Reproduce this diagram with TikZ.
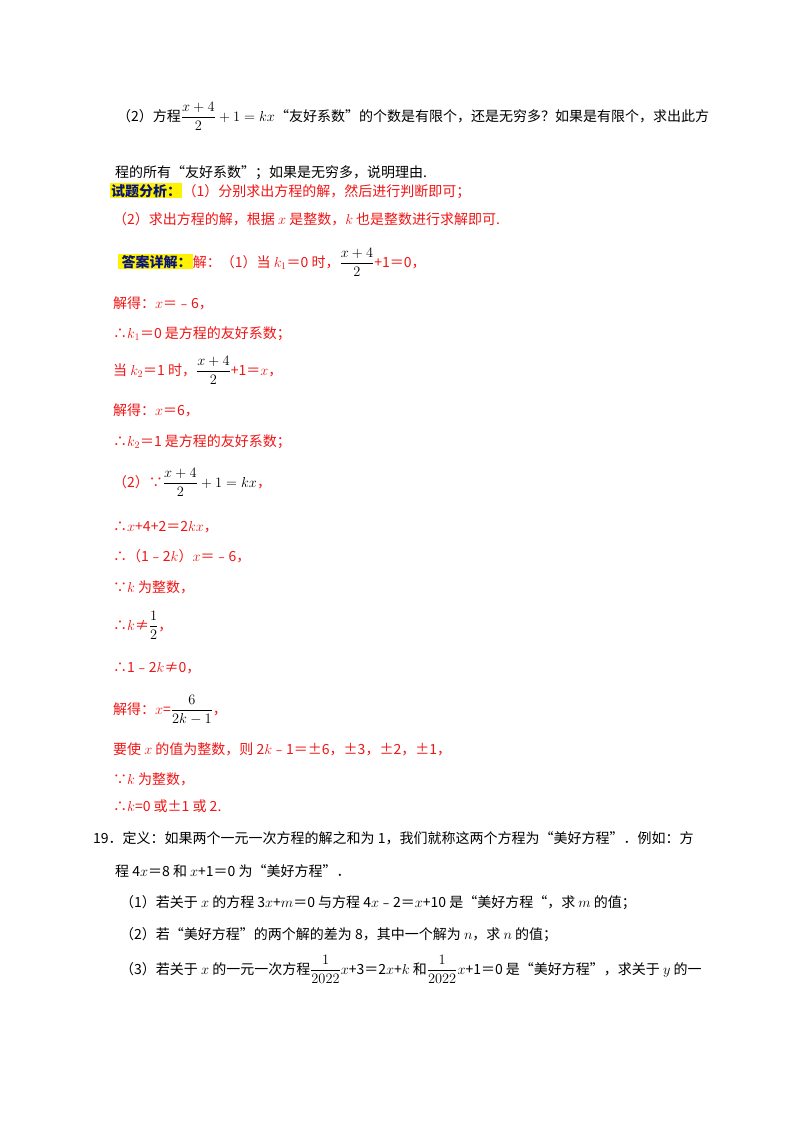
\documentclass[tikz,border=0pt]{standalone}
\usepackage{fontspec}
\usepackage{amsmath}
\setmainfont{Liberation Serif}
\newfontfamily\cjk{Noto Sans CJK SC}
\definecolor{rd}{RGB}{240,20,20}
\definecolor{lbl}{RGB}{10,20,120}
\begin{document}
\begin{tikzpicture}[x=1pt,y=-1pt,
  t/.style={anchor=base west,inner sep=0,font=\cjk\fontsize{14}{17}\selectfont},
  r/.style={t,text=rd},
  lab/.style={anchor=base west,inner sep=1pt,fill=yellow,text=lbl,font=\cjk\bfseries\fontsize{14}{17}\selectfont}]
\useasboundingbox (0,0) rectangle (800,1132);
\newcommand{\fr}[2]{{\color{black}$\dfrac{#1}{#2}$}}
\node[t] (l1) at (117,121) {（2）方程\fr{x+4}{2}${}+1=kx$“友好系数”的个数是有限个，还是无穷多？如果是有限个，求出此方};
\node[t] (l2) at (115,177) {程的所有“友好系数”；如果是无穷多，说明理由.};
\node[lab] (a1) at (110,196) {试题分析：};
\node[r,anchor=base west] (l3) at (a1.base east) {（1）分别求出方程的解，然后进行判断即可；};
\node[r] (l4) at (113,224) {（2）求出方程的解，根据 $x$ 是整数，$k$ 也是整数进行求解即可.};
\node[lab] (a2) at (118,267) {\,答案详解：};
\node[r,anchor=base west] (l5) at (a2.base east) {解：（1）当 $k_1$＝0 时，\fr{x+4}{2}+1＝0，};
\node[r] (l6) at (113,308) {解得：$x$＝﹣6，};
\node[r] (l7) at (113,338) {∴$k_1$＝0 是方程的友好系数；};
\node[r] (l8) at (113,375) {当 $k_2$＝1 时，\fr{x+4}{2}+1＝$x$，};
\node[r] (l9) at (113,415) {解得：$x$＝6，};
\node[r] (l10) at (113,446) {∴$k_2$＝1 是方程的友好系数；};
\node[r] (l11) at (113,487) {（2）∵\fr{x+4}{2}{\color{black}${}+1=kx$}，};
\node[r] (l12) at (113,531) {∴$x$+4+2＝2$kx$，};
\node[r] (l13) at (113,561) {∴（1﹣2$k$）$x$＝﹣6，};
\node[r] (l14) at (113,592) {∵$k$ 为整数，};
\node[r] (l15) at (113,630) {∴$k$≠\fr{1}{2}，};
\node[r] (l16) at (113,672) {∴1﹣2$k$≠0，};
\node[r] (l17) at (113,714) {解得：$x$=\fr{6}{2k-1}，};
\node[r] (l18) at (113,754) {要使 $x$ 的值为整数，则 2$k$﹣1＝±6，±3，±2，±1，};
\node[r] (l19) at (113,784) {∵$k$ 为整数，};
\node[r] (l20) at (113,811) {∴$k$=0 或±1 或 2.};
\node[t] (l21) at (93,843) {19．定义：如果两个一元一次方程的解之和为 1，我们就称这两个方程为“美好方程”．例如：方};
\node[t] (l22) at (115,876) {程 4$x$＝8 和 $x$+1＝0 为“美好方程”．};
\node[t] (l23) at (120,907) {（1）若关于 $x$ 的方程 3$x$+$m$＝0 与方程 4$x$﹣2＝$x$+10 是“美好方程“，求 $m$ 的值；};
\node[t] (l24) at (120,939) {（2）若“美好方程”的两个解的差为 8，其中一个解为 $n$，求 $n$ 的值；};
\node[t] (l25) at (120,974) {（3）若关于 $x$ 的一元一次方程\fr{1}{2022}$x$+3＝2$x$+$k$ 和\fr{1}{2022}$x$+1＝0 是“美好方程”，求关于 $y$ 的一};
\end{tikzpicture}
\end{document}
